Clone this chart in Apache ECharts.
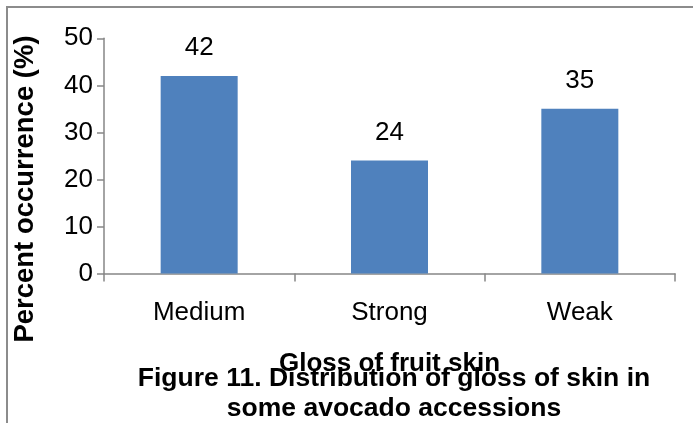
<!DOCTYPE html>
<html>
<head>
<meta charset="utf-8">
<script src="https://cdn.jsdelivr.net/npm/echarts@6/dist/echarts.min.js"></script>
<style>
  html, body { margin: 0; padding: 0; background: #fff; }
  #chart { width: 693px; height: 423px; }
</style>
</head>
<body>
<div id="chart"></div>
<script>
// Gloss of fruit skin categories and their percent occurrence
const categories = ['Medium', 'Strong', 'Weak'];
const percentOccurrence = [42, 24, 35];
const yTicks = [0, 10, 20, 30, 40, 50];
const yAxisTitle = 'Percent occurrence (%)';
const xAxisTitle = 'Gloss of fruit skin';
const figureCaption = 'Figure 11. Distribution of gloss of skin in\nsome avocado accessions';

const FONT = '"Liberation Sans", Arial, sans-serif';
const AXIS_GRAY = '#868686';

const chart = echarts.init(document.getElementById('chart'), null, { renderer: 'canvas' });

chart.setOption({
  animation: false,
  backgroundColor: '#ffffff',
  title: {
    text: figureCaption,
    left: 389,
    top: 359,
    textAlign: 'center',
    textStyle: {
      fontFamily: FONT,
      fontSize: 26.5,
      fontWeight: 'bold',
      color: '#000',
      lineHeight: 30
    }
  },
  grid: {
    left: 104,
    right: 18,
    top: 38.3,
    bottom: 149.5,
    containLabel: false
  },
  xAxis: {
    type: 'category',
    data: categories,
    name: xAxisTitle,
    nameLocation: 'middle',
    nameGap: 77,
    nameTextStyle: {
      fontFamily: FONT,
      fontSize: 26,
      fontWeight: 'bold',
      color: '#000'
    },
    axisLine: { lineStyle: { color: AXIS_GRAY, width: 1.5 } },
    axisTick: { show: true, length: 8, alignWithLabel: false, lineStyle: { color: AXIS_GRAY, width: 1.5 } },
    axisLabel: {
      margin: 26,
      fontFamily: FONT,
      fontSize: 26,
      color: '#000'
    }
  },
  yAxis: {
    type: 'value',
    min: yTicks[0],
    max: yTicks[yTicks.length - 1],
    interval: yTicks[1] - yTicks[0],
    axisLine: { show: true, lineStyle: { color: AXIS_GRAY, width: 1.5 } },
    axisTick: { show: true, length: 7, lineStyle: { color: AXIS_GRAY, width: 1.5 } },
    splitLine: { show: false },
    axisLabel: {
      margin: 11,
      fontFamily: FONT,
      fontSize: 26,
      color: '#000'
    }
  },
  series: [{
    type: 'bar',
    data: percentOccurrence,
    barWidth: 77,
    itemStyle: { color: '#4F81BD' },
    label: {
      show: true,
      position: 'top',
      distance: 15,
      fontFamily: FONT,
      fontSize: 26,
      color: '#000'
    }
  }],
  graphic: [
    {
      // outer frame: left and top edges
      type: 'polyline',
      shape: { points: [[7, 423], [7, 7], [693, 7]] },
      style: { stroke: '#8c8c8c', lineWidth: 2, fill: null },
      silent: true
    },
    {
      // vertical axis title
      type: 'text',
      x: 25,
      y: 189,
      rotation: Math.PI / 2,
      style: {
        text: yAxisTitle,
        fontFamily: FONT,
        fontSize: 27.5,
        fontWeight: 'bold',
        fill: '#000',
        align: 'center',
        verticalAlign: 'middle'
      },
      silent: true
    }
  ]
});
</script>
</body>
</html>
